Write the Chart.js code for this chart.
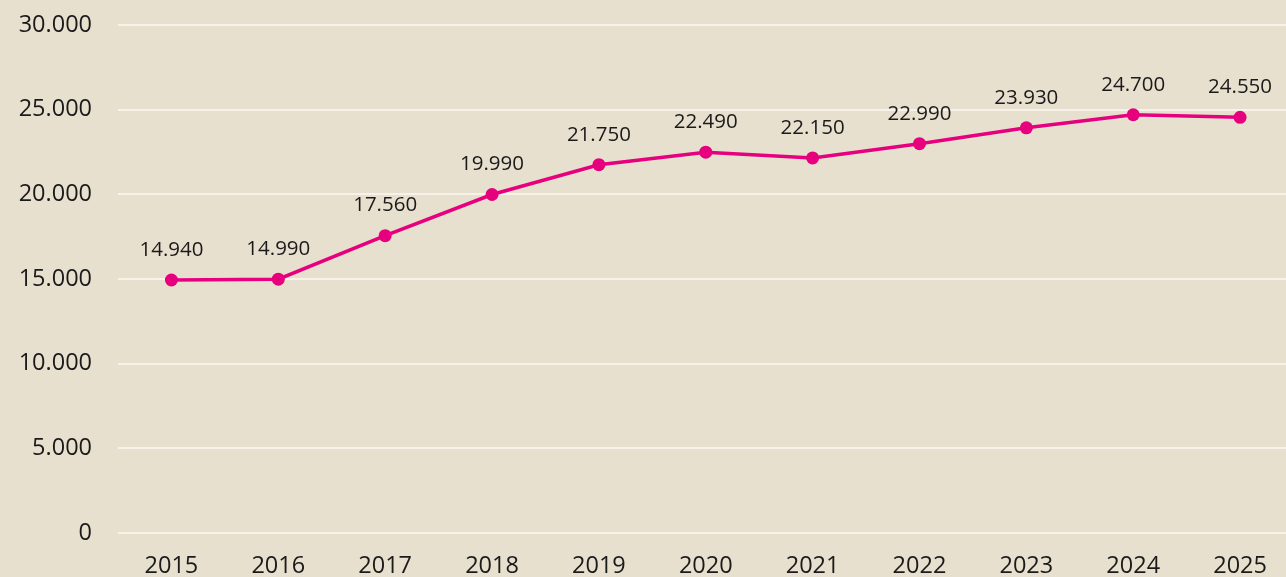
<!DOCTYPE html>
<html>
<head>
<meta charset="utf-8">
<script src="https://cdn.jsdelivr.net/npm/chart.js@4/dist/chart.umd.min.js"></script>
<style>
html,body{margin:0;padding:0;background:#E8E0CE;overflow:hidden;width:1286px;height:577px;}
#wrap{position:relative;width:1300px;height:577px;}
</style>
</head>
<body>
<div id="wrap"><canvas id="c" width="1300" height="577"></canvas></div>
<script>
const years = ['2015','2016','2017','2018','2019','2020','2021','2022','2023','2024','2025'];
const values = [14940, 14990, 17560, 19990, 21750, 22490, 22150, 22990, 23930, 24700, 24550];
const yTicks = [0, 5000, 10000, 15000, 20000, 25000, 30000];

const FONT = '"Open Sans", "DejaVu Sans", sans-serif';
function fmt(v){ return String(Math.round(v)).replace(/\B(?=(\d{3})+(?!\d))/g, '.'); }

const labelPlugin = {
  id: 'pointLabels',
  afterDatasetsDraw(chart){
    const ctx = chart.ctx;
    const meta = chart.getDatasetMeta(0);
    ctx.save();
    ctx.font = '20.5px ' + FONT;
    ctx.fillStyle = '#1a1a1a';
    ctx.textAlign = 'center';
    ctx.textBaseline = 'middle';
    meta.data.forEach((pt, i) => {
      ctx.fillText(fmt(values[i]), pt.x, pt.y - 30);
    });
    ctx.restore();
  }
};

new Chart(document.getElementById('c'), {
  type: 'line',
  data: {
    labels: years,
    datasets: [{
      data: values,
      borderColor: '#E6007E',
      backgroundColor: '#E6007E',
      borderWidth: 3.5,
      pointRadius: 6.5,
      pointHoverRadius: 6.5,
      pointBackgroundColor: '#E6007E',
      pointBorderWidth: 0,
      tension: 0
    }]
  },
  options: {
    responsive: false,
    animation: false,
    devicePixelRatio: 1,
    layout: { padding: { top: 25, left: 0, right: 0, bottom: 0 } },
    plugins: { legend: { display: false }, tooltip: { enabled: false } },
    scales: {
      x: {
        offset: true,
        grid: { display: false, drawTicks: false },
        border: { display: false },
        ticks: { color: '#1a1a1a', font: { size: 23.5, family: FONT }, padding: 19, maxRotation: 0 },
        afterFit(s){ s.height = 44; s.paddingLeft = 0; s.paddingRight = 0; }
      },
      y: {
        min: 0, max: 30000,
        afterBuildTicks(s){ s.ticks = yTicks.map(v => ({ value: v })); },
        grid: { color: '#F7F2EA', lineWidth: 2, drawTicks: false },
        border: { display: false },
        ticks: { color: '#1a1a1a', font: { size: 23.5, family: FONT }, padding: 26, callback: v => fmt(v) },
        afterFit(s){ s.width = 118; s.paddingTop = 0; s.paddingBottom = 0; }
      }
    }
  },
  plugins: [labelPlugin]
});
</script>
</body>
</html>
